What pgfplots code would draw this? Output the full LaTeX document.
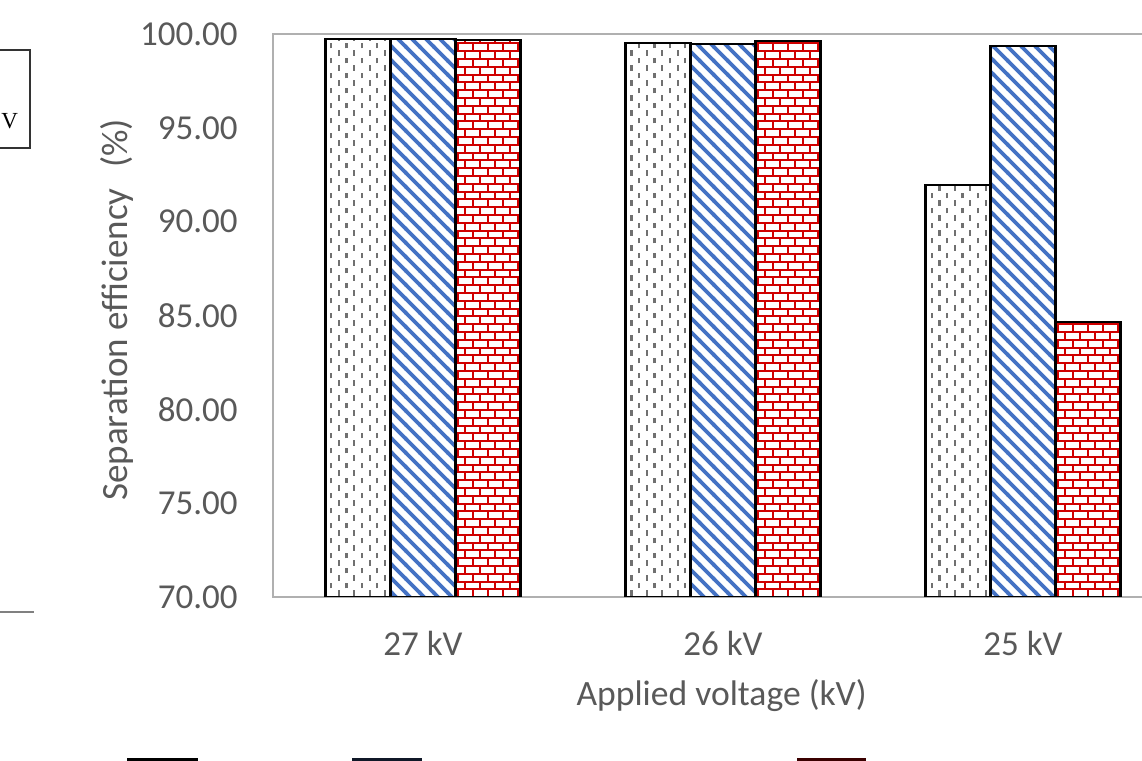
\documentclass[border=0pt]{standalone}
\usepackage{pgfplots}
\pgfplotsset{compat=1.18}
\usepackage{fontspec}
\setmainfont{Carlito}
\newfontfamily\seriffont{Liberation Serif}
\usetikzlibrary{patterns}
\definecolor{txt}{HTML}{595959}
\definecolor{frame}{HTML}{B0B0B0}
\definecolor{dashgray}{HTML}{707070}
\definecolor{stripeblue}{HTML}{4472C4}
\definecolor{brickred}{HTML}{D00000}
\definecolor{legred}{HTML}{3A0000}
\definecolor{legnavy}{HTML}{101828}

% dashed vertical pattern
\pgfdeclarepatternformonly{dashvert}{\pgfqpoint{-1pt}{-1pt}}{\pgfqpoint{8.7pt}{8.5pt}}{\pgfqpoint{7.7pt}{7.5pt}}{%
  \pgfsetlinewidth{1.1pt}%
  \pgfpathmoveto{\pgfqpoint{0pt}{0pt}}\pgfpathlineto{\pgfqpoint{0pt}{2.8pt}}%
  \pgfpathmoveto{\pgfqpoint{3.85pt}{3.75pt}}\pgfpathlineto{\pgfqpoint{3.85pt}{6.55pt}}%
  \pgfusepath{stroke}}
% north-west diagonal stripes
\pgfdeclarepatternformonly{nwstripes}{\pgfqpoint{-1pt}{-1pt}}{\pgfqpoint{8pt}{8pt}}{\pgfqpoint{7pt}{7pt}}{%
  \pgfsetlinewidth{1.8pt}%
  \pgfpathmoveto{\pgfqpoint{-0.7pt}{7.7pt}}\pgfpathlineto{\pgfqpoint{7.7pt}{-0.7pt}}%
  \pgfusepath{stroke}}
% bricks
\pgfdeclarepatternformonly{mybricks}{\pgfqpoint{-1pt}{-1pt}}{\pgfqpoint{8.5pt}{8.8pt}}{\pgfqpoint{7.5pt}{7.8pt}}{%
  \pgfsetlinewidth{1pt}%
  \pgfpathmoveto{\pgfqpoint{-0.5pt}{0pt}}\pgfpathlineto{\pgfqpoint{8pt}{0pt}}%
  \pgfpathmoveto{\pgfqpoint{-0.5pt}{3.9pt}}\pgfpathlineto{\pgfqpoint{8pt}{3.9pt}}%
  \pgfpathmoveto{\pgfqpoint{0pt}{0pt}}\pgfpathlineto{\pgfqpoint{0pt}{3.9pt}}%
  \pgfpathmoveto{\pgfqpoint{3.75pt}{3.9pt}}\pgfpathlineto{\pgfqpoint{3.75pt}{7.8pt}}%
  \pgfusepath{stroke}}

\pgfplotstableread{
x  g     b     r
0  99.73 99.73 99.68
1  99.52 99.47 99.62
2  91.95 99.36 84.66
}\datatable

\begin{document}
\begin{tikzpicture}[x=0.5pt,y=0.5pt]
\useasboundingbox (0,0) rectangle (1142,761);
\clip (0,0) rectangle (1142,761);
\fill[white] (0,0) rectangle (1142,761);
% remnants at the left edge
\draw[black!80, line width=0.75pt] (-5,711) rectangle (30,613);
\node[anchor=base west, inner sep=0pt, font=\seriffont\fontsize{11.5}{13}\selectfont] at (1,632) {V};
\draw[gray, line width=0.75pt] (0,149) -- (34,149);
% legend remnants at the bottom edge
\fill[black] (127,0) rectangle (198,3);
\fill[legnavy] (352,0) rectangle (422,3);
\fill[legred] (797,0) rectangle (866,3);
\begin{axis}[
  at={(136.5pt,82pt)}, anchor=south west,
  scale only axis, width=450pt, height=281.5pt,
  xmin=-0.5, xmax=2.5, ymin=70, ymax=100,
  ybar, bar width=0.2167,
  axis line style={draw=frame, line width=1pt},
  major tick length=0pt,
  xtick={0,1,2}, xticklabels={27 kV,26 kV,25 kV},
  ytick={70,75,80,85,90,95,100},
  /pgf/number format/fixed,
  /pgf/number format/fixed zerofill,
  /pgf/number format/precision=2,
  /pgf/number format/assume math mode=true,
  tick label style={font=\fontsize{17.5}{21}\selectfont, text=txt},
  yticklabel style={inner sep=0pt, anchor=east, xshift=-17.5pt},
  xticklabel style={inner sep=0pt, anchor=north, yshift=-17pt},
  clip mode=individual,
]
\addplot[bar shift=-0.2167, draw=black, line width=1.1pt, pattern=dashvert, pattern color=dashgray] table[x=x,y=g]{\datatable};
\addplot[bar shift=0, draw=black, line width=1.1pt, pattern=nwstripes, pattern color=stripeblue] table[x=x,y=b]{\datatable};
\addplot[bar shift=0.2167, draw=black, line width=1.1pt, pattern=mybricks, pattern color=brickred] table[x=x,y=r]{\datatable};
\node[rotate=90, anchor=base, inner sep=0pt, font=\fontsize{18.5}{22}\selectfont, text=txt] at (axis description cs:-0.1622,0.51) {Separation efficiency\hspace{0.55em}(\%)};
\node[anchor=base, inner sep=0pt, font=\fontsize{17.8}{21}\selectfont, text=txt] at (axis description cs:0.4985,-0.1936) {Applied voltage (kV)};
\end{axis}
\end{tikzpicture}
\end{document}
